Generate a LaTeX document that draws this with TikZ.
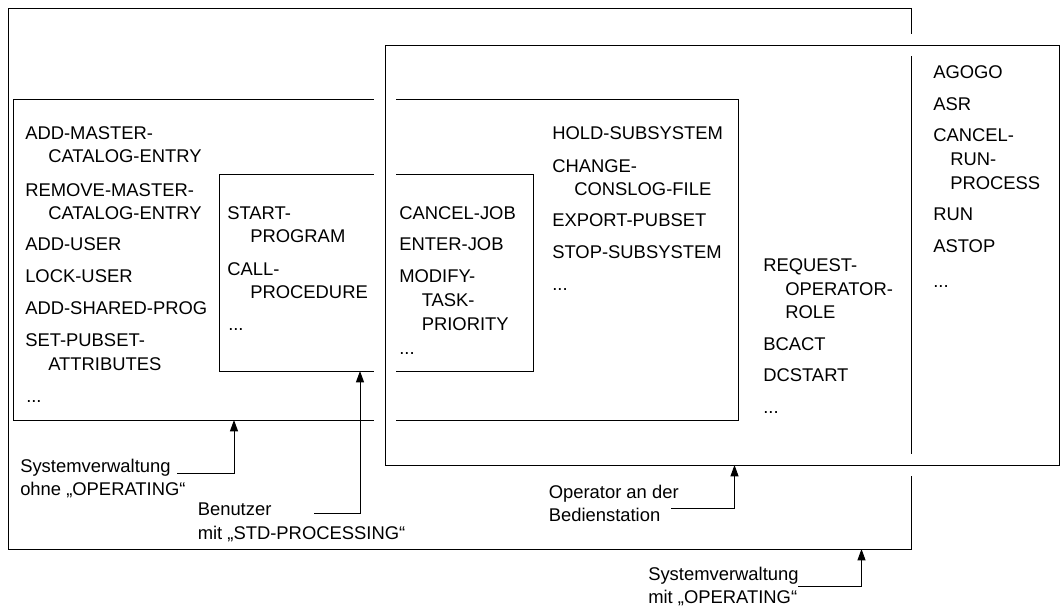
\documentclass[tikz,border=0pt]{standalone}
\usepackage{fontspec}
\setmainfont{Liberation Sans}
\usetikzlibrary{arrows.meta}
\tikzset{
  entry/.style={anchor=base west,inner sep=0pt,font=\fontsize{13.8}{17}\selectfont},
  frame/.style={draw,line width=0.75pt},
  halo/.style={draw=white,line width=16.5pt},
  pointer/.style={line width=0.75pt,-{Triangle[length=8.5pt,width=6pt]}}
}
\begin{document}
\begin{tikzpicture}[x=0.75pt,y=-0.75pt]
\useasboundingbox (0,0) rectangle (1061,607);
\coordinate (allsys nw) at (8,8);
\coordinate (allsys se) at (911,549);
\coordinate (sysadm nw) at (13,99);
\coordinate (sysadm se) at (738,420);
\coordinate (user nw) at (219,174);
\coordinate (user se) at (533,371);
\coordinate (oper nw) at (385,45);
\coordinate (oper se) at (1059,465);
\draw[frame] (allsys nw) rectangle (allsys se);
\draw[frame] (sysadm nw) rectangle (sysadm se);
\draw[frame] (user nw) rectangle (user se);
\draw[halo] (oper nw) rectangle (oper se);
\draw[frame] (oper nw) rectangle (oper se);

\foreach \x/\y/\t [count=\i] in {25/139.5/ADD-MASTER-,48/162.8/CATALOG-ENTRY,25/196/REMOVE-MASTER-,
    48/219.3/CATALOG-ENTRY,25/250.6/ADD-USER,25/282/LOCK-USER,25/314/ADD-SHARED-PROG,
    25/346.6/SET-PUBSET-,48/370.6/ATTRIBUTES,26/402/{...}}
  \node[entry] (sysadm\i) at (\x,\y) {\t};
\foreach \x/\y/\t [count=\i] in {227/219.3/START-,250/242.6/PROGRAM,227/275/CALL-,
    250/298.3/PROCEDURE,228/330.5/{...}}
  \node[entry] (user\i) at (\x,\y) {\t};
\foreach \x/\y/\t [count=\i] in {399/219.3/CANCEL-JOB,399/250.6/ENTER-JOB,399/282/MODIFY-,
    421.5/306/TASK-,421.5/330/PRIORITY,399/354/{...}}
  \node[entry] (job\i) at (\x,\y) {\t};
\foreach \x/\y/\t [count=\i] in {552/139.5/HOLD-SUBSYSTEM,552/172.5/CHANGE-,574/195.5/CONSLOG-FILE,
    552/226.6/EXPORT-PUBSET,552/258.3/STOP-SUBSYSTEM,552/290/{...}}
  \node[entry] (subsys\i) at (\x,\y) {\t};
\foreach \x/\y/\t [count=\i] in {763/271.6/REQUEST-,785/295/OPERATOR-,785/318.5/ROLE,
    763/350/BCACT,763/381.6/DCSTART,763/413/{...}}
  \node[entry] (oper\i) at (\x,\y) {\t};
\foreach \x/\y/\t [count=\i] in {933/78.3/AGOGO,933/110/ASR,933/141.6/CANCEL-,950/165/RUN-,
    950/189/PROCESS,933/220.5/RUN,933/252.3/ASTOP,933/287/{...}}
  \node[entry] (cmd\i) at (\x,\y) {\t};

\node[entry] (sysohne) at (20,472) {Systemverwaltung};
\node[entry] (sysohne2) at (20,495.5) {ohne „OPERATING“};
\node[entry] (benutzer) at (197.5,515.3) {Benutzer};
\node[entry] (benutzer2) at (197.5,539) {mit „STD-PROCESSING“};
\node[entry] (operator) at (548.5,498.3) {Operator an der};
\node[entry] (operator2) at (548.5,521.8) {Bedienstation};
\node[entry] (sysmit) at (648,580.3) {Systemverwaltung};
\node[entry] (sysmit2) at (648,603.6) {mit „OPERATING“};

\coordinate (from1) at (177,473);
\coordinate (to1) at (234,420);
\coordinate (from2) at (314,513);
\coordinate (to2) at (360,371);
\coordinate (from3) at (671,508.3);
\coordinate (to3) at (734.5,465);
\coordinate (from4) at (798,586);
\coordinate (to4) at (861.5,549);
\foreach \i in {1,...,4}
  \draw[pointer] (from\i) -| (to\i);
\end{tikzpicture}
\end{document}
